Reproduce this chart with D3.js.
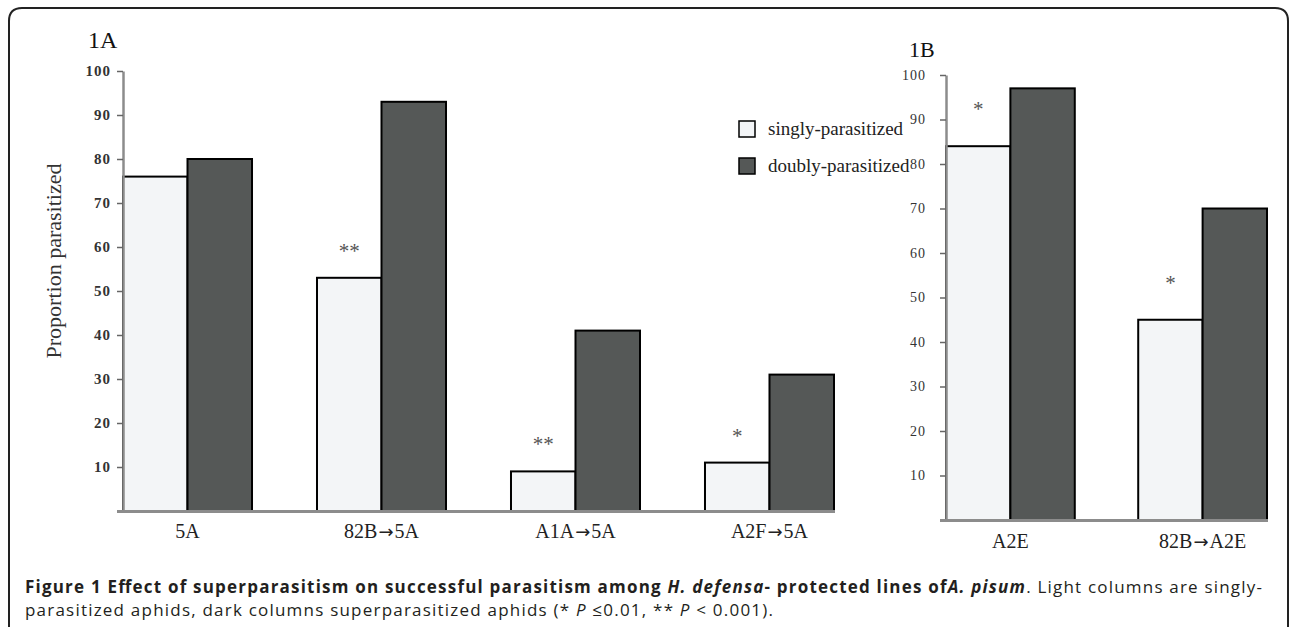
<!DOCTYPE html>
<html><head><meta charset="utf-8">
<script src="https://cdn.jsdelivr.net/npm/d3@7"></script>
<style>body{margin:0;background:#fff;} svg{display:block;}</style>
</head><body>
<svg id="c" width="1290" height="627"></svg>
<script>
// ---- data ----
const catsA = ["5A", "82B\u21925A", "A1A\u21925A", "A2F\u21925A"];
const singlyA = [76, 53, 9, 11];
const doublyA = [80, 93, 41, 31];
const sigA = ["", "**", "**", "*"];

const catsB = ["A2E", "82B\u2192A2E"];
const singlyB = [84, 45];
const doublyB = [97, 70];
const sigB = ["*", "*"];

const yTicks = [10, 20, 30, 40, 50, 60, 70, 80, 90, 100];
const seriesNames = ["singly-parasitized", "doubly-parasitized"];
const panelTitles = ["1A", "1B"];
const yTitle = "Proportion parasitized";

// ---- style ----
const LIGHT = "#f3f5f7", DARK = "#555857", AXIS = "#8c8c8c";
const SERIF = "'Liberation Serif', 'Times New Roman', serif";

const svg = d3.select("#c");

// frame
svg.append("path")
  .attr("d", "M9,640 L9,21 Q9,8 22,8 L1275,8 Q1288,8 1288,21 L1288,640")
  .attr("fill", "none").attr("stroke", "#222").attr("stroke-width", 2);

// category label with a long arrow glyph
function catLabel(sel, s) {
  const parts = s.split("\u2192");
  sel.text(null);
  sel.append("tspan").text(parts[0]);
  if (parts.length > 1) {
    sel.append("tspan").style("font-family", "'DejaVu Sans', sans-serif").style("font-size", "18px")
      .attr("dx", 1).text("\u2192");
    sel.append("tspan").attr("dx", 1).text(parts[1]);
  }
}

function panel(o) {
  const g = svg.append("g");
  const y = d3.scaleLinear().domain([0, 100]).range([o.yBase, o.yTop]);
  const x = d3.scaleBand().domain(o.cats).range([o.x0, o.x1]).paddingInner(o.padIn).paddingOuter(0);
  const xs = d3.scaleBand().domain([0, 1]).range([0, x.bandwidth()]).padding(0);
  const rows = o.cats.map((c, i) => ({ c, v: [o.s1[i], o.s2[i]], sig: o.sig[i] }));

  const grp = g.selectAll("g.grp").data(rows).join("g").attr("class", "grp")
    .attr("transform", d => `translate(${x(d.c)},0)`);
  grp.selectAll("rect").data(d => d.v).join("rect")
    .attr("x", (d, i) => xs(i))
    .attr("y", d => y(d))
    .attr("width", xs.bandwidth())
    .attr("height", d => y(0) - y(d))
    .attr("fill", (d, i) => i === 0 ? LIGHT : DARK)
    .attr("stroke", "#000").attr("stroke-width", 2);

  grp.append("text")
    .attr("x", xs(0) + xs.bandwidth() / 2)
    .attr("y", d => y(d.v[0]) - o.sigOff)
    .attr("text-anchor", "middle")
    .style("font-family", SERIF).style("font-size", "21px").attr("fill", "#555")
    .text(d => d.sig);

  // y axis
  const ya = g.append("g").attr("transform", `translate(${o.x0},0)`)
    .call(d3.axisLeft(y).tickValues(yTicks).tickSize(6).tickSizeOuter(0).tickPadding(o.tickPad));
  ya.select(".domain").attr("stroke", AXIS).attr("stroke-width", 2.5);
  ya.selectAll(".tick line").attr("stroke", "#666").attr("stroke-width", 1.5);
  ya.selectAll(".tick text")
    .style("font-family", SERIF).style("font-size", o.tickFs + "px")
    .style("font-weight", o.tickBold ? "bold" : "normal").attr("fill", "#333")
    .style("letter-spacing", "1px");

  // x baseline
  g.append("line").attr("x1", o.x0 - 6).attr("x2", o.x1 + 1)
    .attr("y1", y(0) + 0.5).attr("y2", y(0) + 0.5)
    .attr("stroke", AXIS).attr("stroke-width", 3);

  // x labels
  g.selectAll("text.xl").data(o.cats).join("text").attr("class", "xl")
    .attr("x", d => x(d) + x.bandwidth() / 2)
    .attr("y", y(0) + o.xlOff)
    .attr("text-anchor", "middle")
    .style("font-family", SERIF).style("font-size", "20px").attr("fill", "#222")
    .each(function (d) { catLabel(d3.select(this), d); });

  // panel title
  g.append("text").attr("x", o.titleX).attr("y", o.titleY)
    .style("font-family", SERIF).style("font-size", o.titleFs + "px").attr("fill", "#111")
    .text(o.title);
  return { x, y };
}

panel({ cats: catsA, s1: singlyA, s2: doublyA, sig: sigA,
  x0: 123, x1: 834, padIn: 0.335, yBase: 511, yTop: 71,
  tickPad: 6, tickFs: 15, tickBold: true, sigOff: 20, xlOff: 27,
  title: panelTitles[0], titleX: 88, titleY: 48, titleFs: 24 });

panel({ cats: catsB, s1: singlyB, s2: doublyB, sig: sigB,
  x0: 946, x1: 1267, padIn: 0.33, yBase: 520, yTop: 75,
  tickPad: 14, tickFs: 14, tickBold: false, sigOff: 30, xlOff: 28,
  title: panelTitles[1], titleX: 909, titleY: 57, titleFs: 22 });

// y title
svg.append("text")
  .attr("transform", "translate(61,261) rotate(-90)")
  .attr("text-anchor", "middle")
  .style("font-family", SERIF).style("font-size", "22px").attr("fill", "#333")
  .text(yTitle);

// legend
const leg = svg.append("g");
seriesNames.forEach((n, i) => {
  leg.append("rect").attr("x", 739).attr("y", 121 + i * 37).attr("width", 16).attr("height", 16)
    .attr("fill", i === 0 ? LIGHT : DARK).attr("stroke", "#000").attr("stroke-width", 1.5);
  leg.append("text").attr("x", 768).attr("y", 135 + i * 37)
    .style("font-family", SERIF).style("font-size", "19px").attr("fill", "#222").text(n);
});

// caption
const CAP = "'Open Sans', 'Noto Sans', sans-serif";
const c1 = svg.append("text").attr("x", 25).attr("y", 593)
  .style("font-family", CAP).style("font-size", "17px").attr("fill", "#231f20")
  .attr("textLength", 1237).attr("lengthAdjust", "spacing");
c1.append("tspan").style("font-weight", "bold").text("Figure 1 Effect of superparasitism on successful parasitism among ");
c1.append("tspan").style("font-weight", "bold").style("font-style", "italic").text("H. defensa");
c1.append("tspan").style("font-weight", "bold").text("- protected lines of");
c1.append("tspan").style("font-weight", "bold").style("font-style", "italic").text("A. pisum");
c1.append("tspan").text(". Light columns are singly-");

const c2 = svg.append("text").attr("x", 25).attr("y", 616)
  .style("font-family", CAP).style("font-size", "17px").attr("fill", "#231f20")
  .attr("textLength", 748).attr("lengthAdjust", "spacing");
c2.append("tspan").text("parasitized aphids, dark columns superparasitized aphids (* ");
c2.append("tspan").style("font-style", "italic").text("P");
c2.append("tspan").text(" \u22640.01, ** ");
c2.append("tspan").style("font-style", "italic").text("P");
c2.append("tspan").text(" < 0.001).");
</script>
</body></html>
